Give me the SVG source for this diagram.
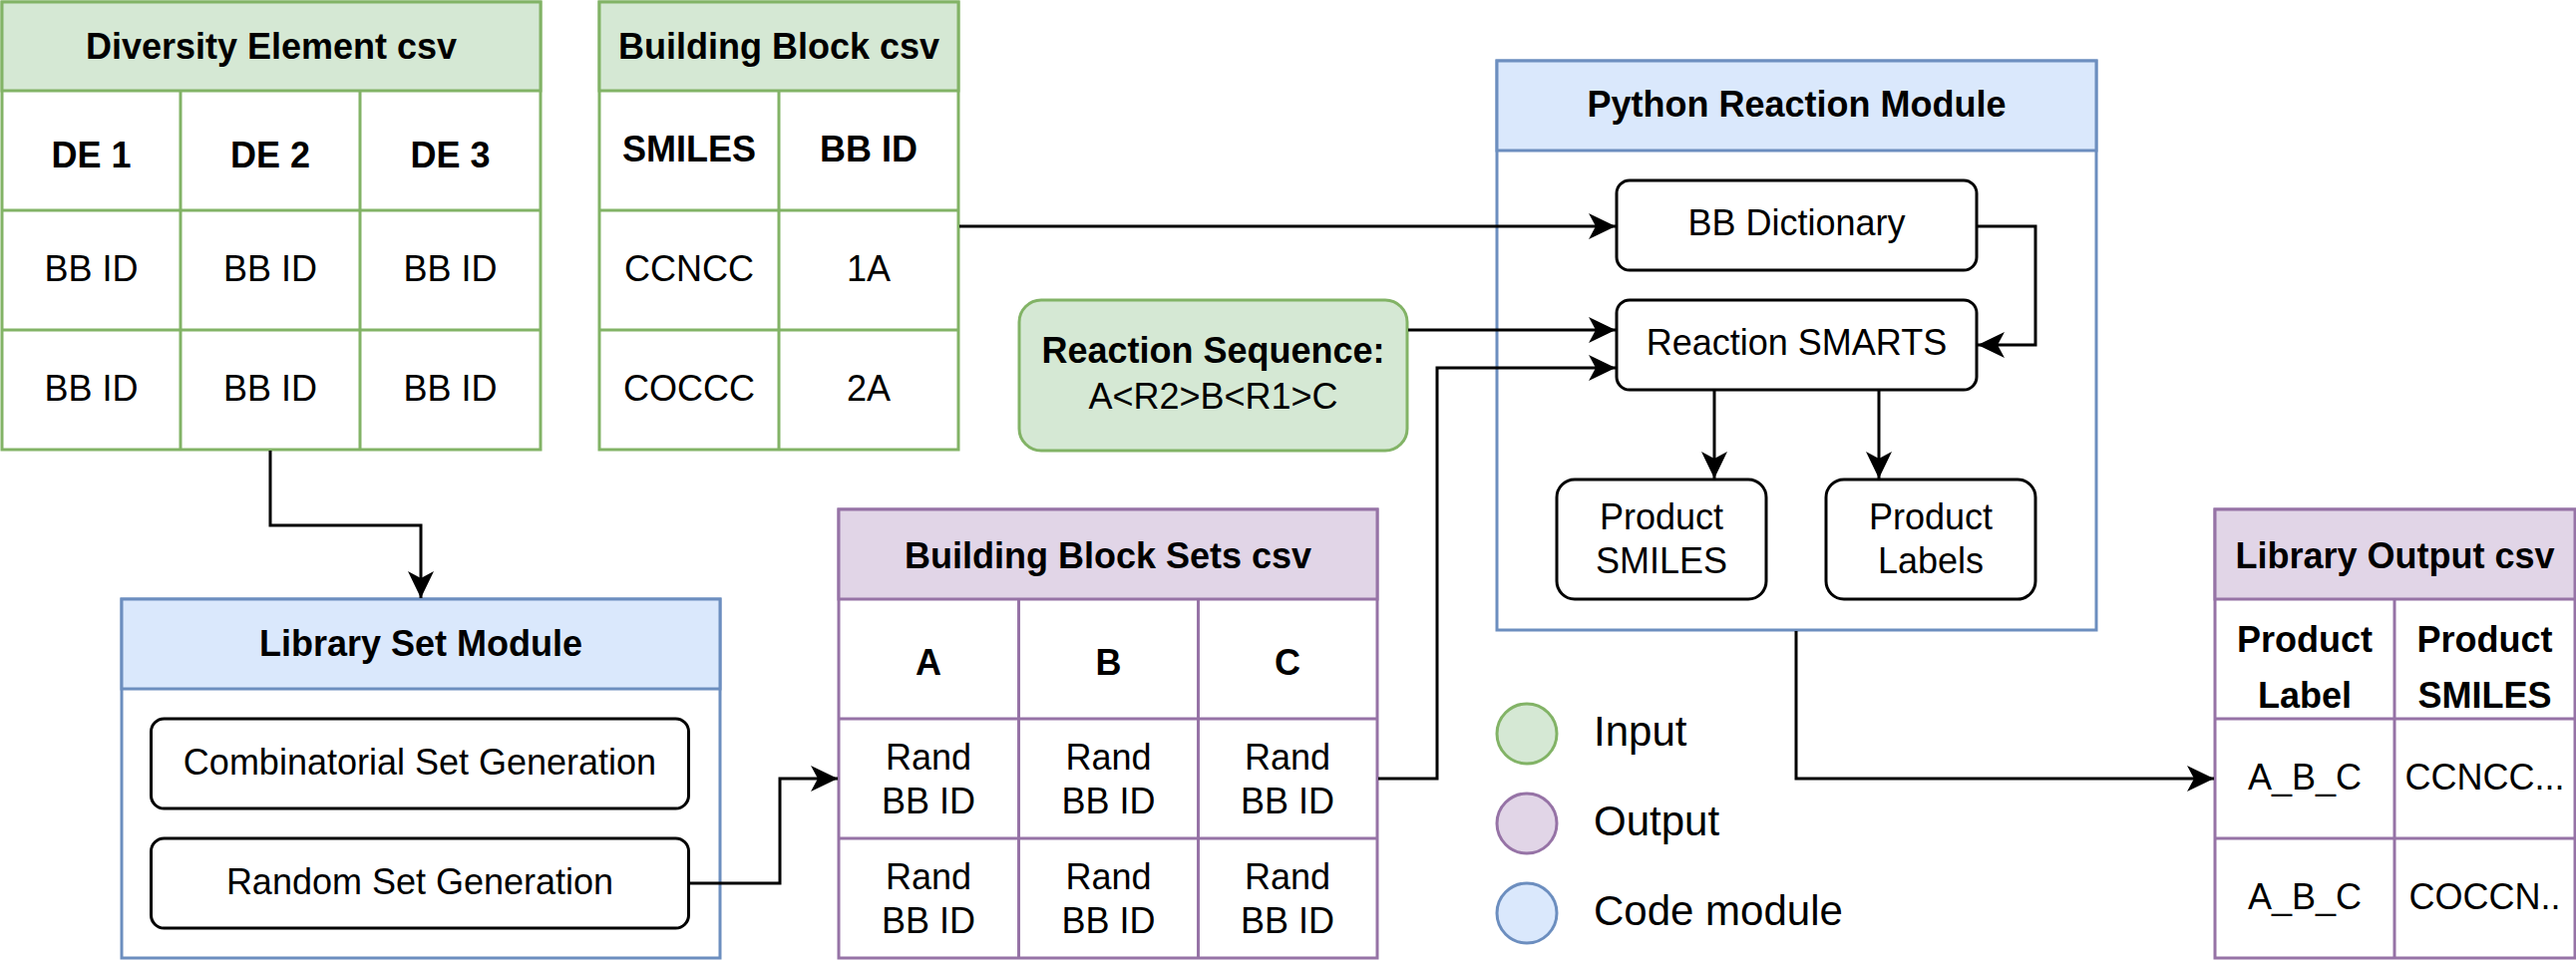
<svg xmlns="http://www.w3.org/2000/svg" width="2583" height="963" viewBox="0 0 2583 963">
<style>
.t{font-family:"Liberation Sans",Arial,Helvetica,sans-serif;font-size:36px;fill:#000;text-anchor:middle}
.b{font-weight:bold}
.lg{font-family:"Liberation Sans",Arial,Helvetica,sans-serif;font-size:42px;fill:#000;text-anchor:start}
.gbody{fill:#fff;stroke:#82b366;stroke-width:3}
.ghead{fill:#d5e8d4;stroke:#82b366;stroke-width:3}
.gline{stroke:#82b366;stroke-width:3;fill:none}
.pbody{fill:#fff;stroke:#9673a6;stroke-width:3}
.phead{fill:#e1d5e7;stroke:#9673a6;stroke-width:3}
.pline{stroke:#9673a6;stroke-width:3;fill:none}
.bbody{fill:#fff;stroke:#6c8ebf;stroke-width:3}
.bhead{fill:#dae8fc;stroke:#6c8ebf;stroke-width:3}
.box{fill:#fff;stroke:#000;stroke-width:3}
.conn{fill:none;stroke:#000;stroke-width:3;marker-end:url(#arr)}
</style>
<defs>
<marker id="arr" markerUnits="userSpaceOnUse" markerWidth="28" markerHeight="26" viewBox="0 0 28 26" refX="27" refY="13" orient="auto">
<path d="M27,13 L0,0 L7,13 L0,26 Z" fill="#000"/>
</marker>
</defs>

<g id="diversity-element-csv">
<rect x="2" y="2" width="540" height="449" class="gbody"/>
<rect x="2" y="2" width="540" height="89" class="ghead"/>
<path d="M2,211 H542 M2,331 H542 M181,91 V451 M361,91 V451" class="gline"/>
<text x="272" y="59" class="t b">Diversity Element csv</text>
<text x="91.5" y="168" class="t b">DE 1</text>
<text x="271" y="168" class="t b">DE 2</text>
<text x="451.5" y="168" class="t b">DE 3</text>
<text x="91.5" y="282" class="t">BB ID</text>
<text x="271" y="282" class="t">BB ID</text>
<text x="451.5" y="282" class="t">BB ID</text>
<text x="91.5" y="402" class="t">BB ID</text>
<text x="271" y="402" class="t">BB ID</text>
<text x="451.5" y="402" class="t">BB ID</text>
</g>

<g id="building-block-csv">
<rect x="601" y="2" width="360" height="449" class="gbody"/>
<rect x="601" y="2" width="360" height="89" class="ghead"/>
<path d="M601,211 H961 M601,331 H961 M781,91 V451" class="gline"/>
<text x="781" y="59" class="t b">Building Block csv</text>
<text x="691" y="162" class="t b">SMILES</text>
<text x="871" y="162" class="t b">BB ID</text>
<text x="691" y="282" class="t">CCNCC</text>
<text x="871" y="282" class="t">1A</text>
<text x="691" y="402" class="t">COCCC</text>
<text x="871" y="402" class="t">2A</text>
</g>

<g id="reaction-sequence">
<rect x="1022" y="301" width="389" height="151" rx="22" ry="22" fill="#d5e8d4" stroke="#82b366" stroke-width="3"/>
<text x="1216.5" y="364" class="t b">Reaction Sequence:</text>
<text x="1216.5" y="410" class="t">A&lt;R2&gt;B&lt;R1&gt;C</text>
</g>

<g id="library-set-module">
<rect x="122" y="601" width="600" height="360" class="bbody"/>
<rect x="122" y="601" width="600" height="90" class="bhead"/>
<text x="422" y="658" class="t b">Library Set Module</text>
</g>
<g id="combinatorial-set-generation">
<rect x="151.5" y="721" width="539" height="90" rx="13" ry="13" class="box"/>
<text x="421" y="777" class="t">Combinatorial Set Generation</text>
</g>
<g id="random-set-generation">
<rect x="151.5" y="841" width="539" height="90" rx="13" ry="13" class="box"/>
<text x="421" y="897" class="t">Random Set Generation</text>
</g>

<g id="building-block-sets-csv">
<rect x="841" y="511" width="540" height="450" class="pbody"/>
<rect x="841" y="511" width="540" height="90" class="phead"/>
<path d="M841,721 H1381 M841,841 H1381 M1021.5,601 V961 M1201.5,601 V961" class="pline"/>
<text x="1111" y="570" class="t b">Building Block Sets csv</text>
<text x="931" y="677" class="t b">A</text>
<text x="1111.5" y="677" class="t b">B</text>
<text x="1291" y="677" class="t b">C</text>
<text x="931" y="772" class="t">Rand</text><text x="931" y="816" class="t">BB ID</text>
<text x="1111.5" y="772" class="t">Rand</text><text x="1111.5" y="816" class="t">BB ID</text>
<text x="1291" y="772" class="t">Rand</text><text x="1291" y="816" class="t">BB ID</text>
<text x="931" y="892" class="t">Rand</text><text x="931" y="936" class="t">BB ID</text>
<text x="1111.5" y="892" class="t">Rand</text><text x="1111.5" y="936" class="t">BB ID</text>
<text x="1291" y="892" class="t">Rand</text><text x="1291" y="936" class="t">BB ID</text>
</g>

<g id="python-reaction-module">
<rect x="1501" y="61" width="601" height="571" class="bbody"/>
<rect x="1501" y="61" width="601" height="90" class="bhead"/>
<text x="1801.5" y="117" class="t b">Python Reaction Module</text>
</g>
<g id="bb-dictionary">
<rect x="1621" y="181" width="361" height="90" rx="13" ry="13" class="box"/>
<text x="1801.5" y="236" class="t">BB Dictionary</text>
</g>
<g id="reaction-smarts">
<rect x="1621" y="301" width="361" height="90" rx="13" ry="13" class="box"/>
<text x="1801.5" y="356" class="t">Reaction SMARTS</text>
</g>
<g id="product-smiles">
<rect x="1561" y="481" width="210" height="120" rx="18" ry="18" class="box"/>
<text x="1666" y="531" class="t">Product</text>
<text x="1666" y="575" class="t">SMILES</text>
</g>
<g id="product-labels">
<rect x="1831" y="481" width="210" height="120" rx="18" ry="18" class="box"/>
<text x="1936" y="531" class="t">Product</text>
<text x="1936" y="575" class="t">Labels</text>
</g>

<g id="library-output-csv">
<rect x="2221" y="511" width="361" height="450" class="pbody"/>
<rect x="2221" y="511" width="361" height="90" class="phead"/>
<path d="M2221,721 H2582 M2221,841 H2582 M2401,601 V961" class="pline"/>
<text x="2401.5" y="570" class="t b">Library Output csv</text>
<text x="2311" y="654" class="t b">Product</text>
<text x="2311" y="710" class="t b">Label</text>
<text x="2491.5" y="654" class="t b">Product</text>
<text x="2491.5" y="710" class="t b">SMILES</text>
<text x="2311" y="792" class="t">A_B_C</text>
<text x="2491.5" y="792" class="t">CCNCC...</text>
<text x="2311" y="912" class="t">A_B_C</text>
<text x="2491.5" y="912" class="t">COCCN..</text>
</g>

<g id="connectors">
<path d="M271,452 V527 H422 V600" class="conn"/>
<path d="M962,227 H1620" class="conn"/>
<path d="M1412,331 H1620" class="conn"/>
<path d="M692,886 H782 V781 H840" class="conn"/>
<path d="M1382,781 H1441 V369 H1620" class="conn"/>
<path d="M1983,227 H2041 V346 H1983" class="conn"/>
<path d="M1719,392 V480" class="conn"/>
<path d="M1884,392 V480" class="conn"/>
<path d="M1801,633 V781 H2220" class="conn"/>
</g>

<g id="legend">
<circle cx="1531" cy="736" r="30" fill="#d5e8d4" stroke="#82b366" stroke-width="3"/>
<circle cx="1531" cy="826" r="30" fill="#e1d5e7" stroke="#9673a6" stroke-width="3"/>
<circle cx="1531" cy="916" r="30" fill="#dae8fc" stroke="#6c8ebf" stroke-width="3"/>
<text x="1598" y="748" class="lg">Input</text>
<text x="1598" y="838" class="lg">Output</text>
<text x="1598" y="928" class="lg">Code module</text>
</g>
</svg>
